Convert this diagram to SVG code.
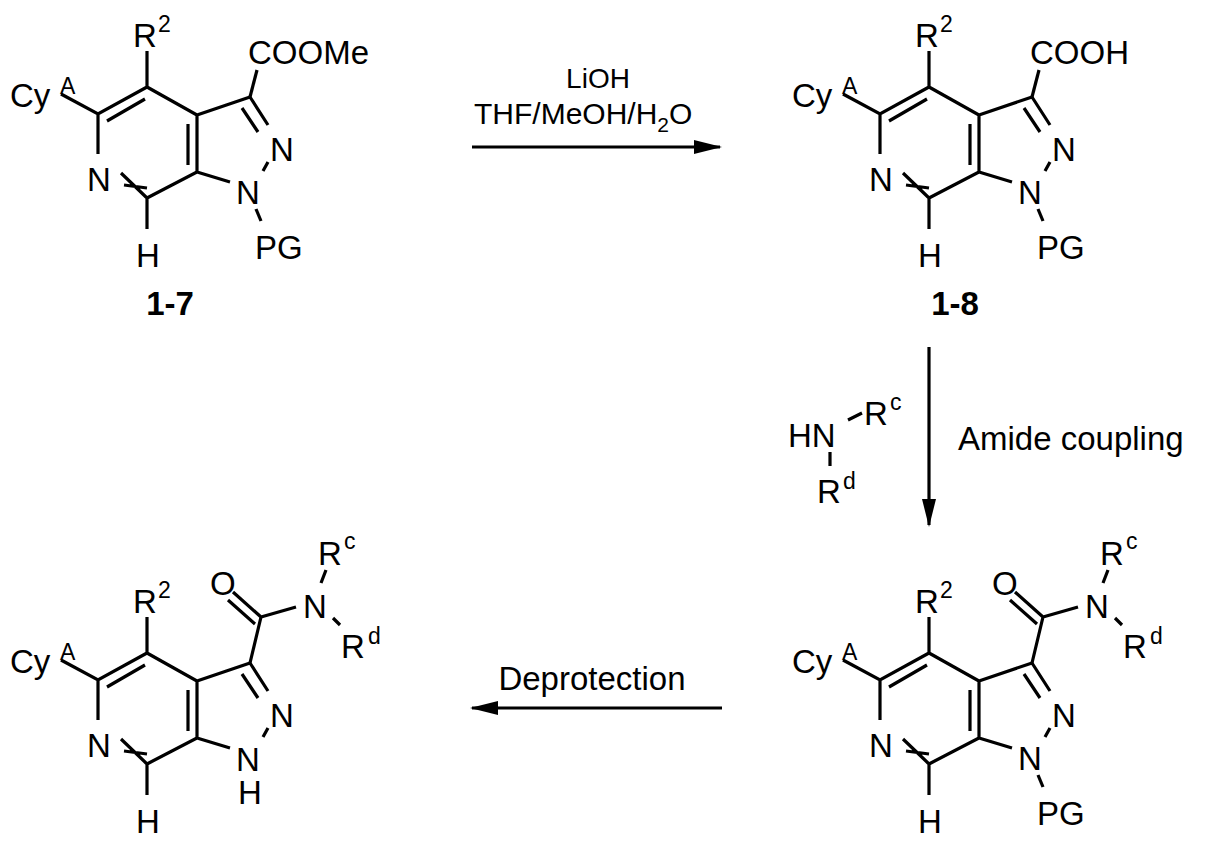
<svg xmlns="http://www.w3.org/2000/svg" width="1205" height="845" viewBox="0 0 1205 845">
<style>
text{font-family:"Liberation Sans",Arial,sans-serif;font-size:33px;fill:#000}
.b{stroke:#000;stroke-width:3.2;fill:none;stroke-linecap:butt}
.sup{font-size:23px}
.lbl{font-weight:bold;text-anchor:middle}
.r{font-size:33px}
</style>
<defs>
<marker id="ah" markerWidth="28" markerHeight="14" refX="26" refY="7" orient="auto" markerUnits="userSpaceOnUse"><path d="M0,0 L28,7 L0,14 Z" fill="#000"/></marker>
<g id="core">
<path class="b" d="M147,87 L147,51 M147,87 L98,114 L61,94 M107,121 L145,99 M98,114 L98,154 M121,173 L147,198 M124,185 L147,188 M147,198 L147,229 M147,198 L197,172 L197,115 L147,87 M188,124 L188,165 M197,115 L250,97 M250,97 L268,125 M242,108 L258,132 M268,162 L263,171 M197,172 L230,182"/>
<text x="10" y="107">Cy</text><text x="60" y="94" class="sup">A</text>
<text x="87" y="191">N</text>
<text x="136" y="267">H</text>
<text x="133" y="47">R</text><text x="158" y="32" class="sup">2</text>
<text x="270" y="161">N</text>
</g>
<g id="pg"><text x="236" y="204">N</text><path class="b" d="M256,209 L261,221"/><text x="255" y="259">PG</text></g>
<g id="amide">
<path class="b" d="M250,97 L261,51 L296,41 M261,51 L233,26 M255,58 L228,34 M326,4 L321,17 M333,52 L340,59"/>
<text x="210" y="29">O</text>
<text x="303" y="52">N</text>
<text x="318" y="-1">R</text><text x="344" y="-17" class="sup">c</text>
<text x="341" y="92">R</text><text x="368" y="78" class="sup">d</text>
</g>
</defs>
<g id="m17"><use href="#core"/><use href="#pg"/>
<path class="b" d="M250,97 L257,70"/><text x="248" y="64">COOMe</text>
<text x="170" y="315" class="lbl">1-7</text></g>
<g id="m18" transform="translate(782,0)"><use href="#core"/><use href="#pg"/>
<path class="b" d="M250,97 L257,70"/><text x="248" y="64">COOH</text>
<text x="173" y="315" class="lbl">1-8</text></g>
<g id="m19" transform="translate(782,566)"><use href="#core"/><use href="#pg"/><use href="#amide"/></g>
<g id="m20" transform="translate(0,566)"><use href="#core"/><use href="#amide"/>
<text x="236" y="205">N</text><text x="238" y="238">H</text></g>
<g id="connectors">
<line class="b" x1="472" y1="147" x2="720" y2="147" stroke-width="2" marker-end="url(#ah)"/>
<line class="b" x1="929" y1="347" x2="929" y2="525" stroke-width="2" marker-end="url(#ah)"/>
<line class="b" x1="722" y1="708" x2="472" y2="708" stroke-width="2" marker-end="url(#ah)"/>
</g>
<g id="labels">
<text x="598" y="88" class="r" text-anchor="middle" style="font-size:28px">LiOH</text>
<text x="474" y="124" style="font-size:30px">THF/MeOH/H<tspan dy="8" style="font-size:21px">2</tspan><tspan dy="-8">O</tspan></text>
<text x="958" y="450" class="r">Amide coupling</text>
<text x="592" y="690" class="r" text-anchor="middle">Deprotection</text>
<text x="788" y="447">HN</text>
<path class="b" d="M848,420 L862,413 M830,452 L830,466"/>
<text x="864" y="425">R</text><text x="890" y="410" class="sup">c</text>
<text x="817" y="503">R</text><text x="843" y="489" class="sup">d</text>
</g>
</svg>
